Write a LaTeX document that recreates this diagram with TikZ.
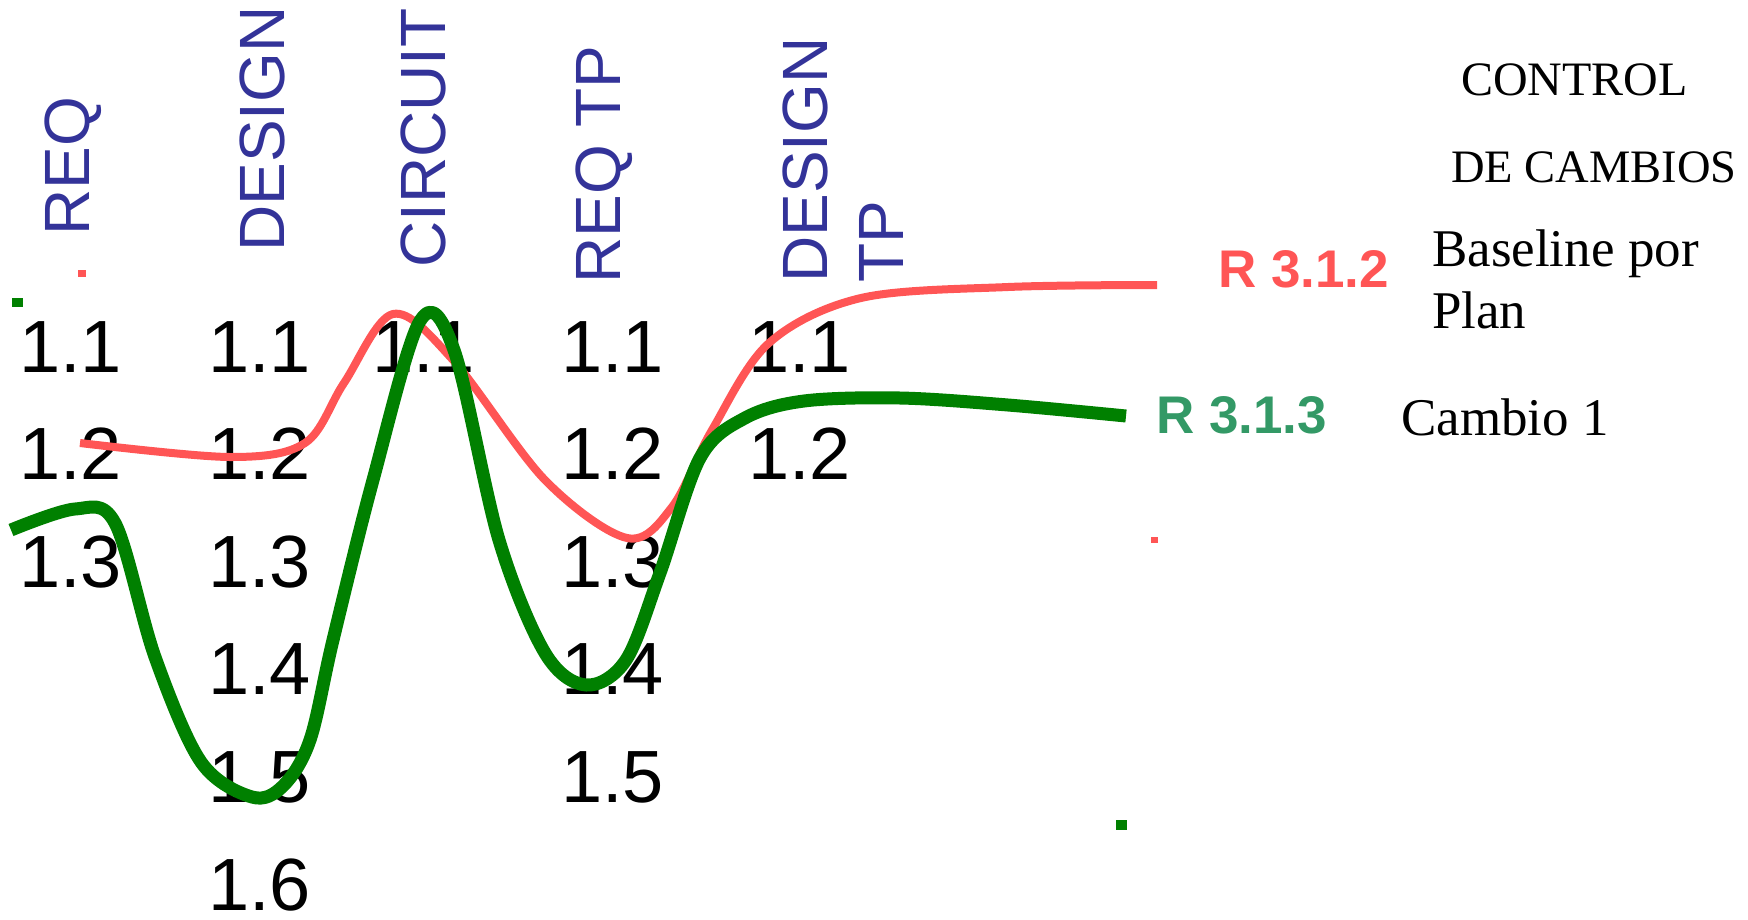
\documentclass[tikz,border=0pt]{standalone}
\usepackage{fontspec}
\setmainfont{Liberation Serif}
\setsansfont{Liberation Sans}
\usetikzlibrary{positioning}
\definecolor{phaseblue}{RGB}{51,51,153}
\definecolor{planred}{RGB}{255,85,85}
\definecolor{changegreen}{RGB}{0,128,0}
\definecolor{tagteal}{RGB}{51,153,102}

\begin{document}
\begin{tikzpicture}[x=1pt, y=-1pt,
    phase/.style={rotate=90, anchor=base west, inner sep=0pt, text=phaseblue,
      font=\sffamily\fontsize{64}{76}\selectfont},
    item/.style={anchor=base west, inner sep=0pt,
      font=\sffamily\fontsize{74}{88}\selectfont},
    release/.style={anchor=base west, inner sep=0pt,
      font=\sffamily\bfseries\fontsize{53}{63}\selectfont},
    note/.style={anchor=base west, inner sep=0pt,
      font=\fontsize{53}{62}\selectfont},
    title/.style={anchor=base west, inner sep=0pt,
      font=\fontsize{48}{58}\selectfont}]

\useasboundingbox (0,0) rectangle (1748,919);

% Phase headings (vertical)
\node[phase] (req)      at (89,236)  {REQ};
\node[phase] (design)   at (284,252) {DESIGN};
\node[phase] (circuit)  at (445,268) {CIRCUIT};
\node[phase] (reqtp)    at (620,284) {REQ TP};
\node[phase] (designtp) at (827,283) {DESIGN};
\node[phase] (tp)       at (903,283) {TP};

% Item numbers under each phase
\foreach \col/\x/\n in {req/19/3, design/208/6, circuit/372/1, reqtp/561/5, designtp/748/2}{
  \foreach \r in {1,...,\n}{
    \node[item] (\col-\r) at (\x, {372+107.6*(\r-1)}) {1.\r};
  }
}

% Baseline por Plan (thin red)
\draw[planred, line width=8pt, line join=round] plot[smooth, tension=0.55] coordinates {
  (80,443) (230,457) (305,443) (344,383) (393,314) (453,360) (545,480)
  (627,538) (672,507) (712,430) (769,343) (861,298) (1008,287) (1157,285)};
\fill[planred] (78,270) rectangle (86,277);
\fill[planred] (1151,537) rectangle (1158,543);

% Cambio 1 (thick green)
\draw[changegreen, line width=13pt, line join=round] plot[smooth, tension=0.55] coordinates {
  (11,530) (75,509) (115,523) (155,657) (201,762) (252,797) (283,786) (310,740)
  (333,640) (373,480) (420,321) (454,350) (499,540) (545,653) (586,685)
  (626,660) (660,573) (700,458) (745,418) (804,401) (900,398) (1008,405) (1126,416)};
\fill[changegreen] (12,298) rectangle (23,307);
\fill[changegreen] (1116,820) rectangle (1127,830);

% Release tags
\node[release, text=planred] (r312) at (1218,287) {R 3.1.2};
\node[release, text=tagteal] (r313) at (1156,433) {R 3.1.3};

% Notes on the right
\node[title] (ctrl)  at (1461,95)  {CONTROL};
\node[title, font=\fontsize{46.5}{56}\selectfont] (cambs) at (1451,182) {DE CAMBIOS};
\node[note] (bpp)   at (1432,266) {Baseline por};
\node[note] (plan)  at (1432,328) {Plan};
\node[note] (cam1)  at (1401,435) {Cambio 1};

\end{tikzpicture}
\end{document}
